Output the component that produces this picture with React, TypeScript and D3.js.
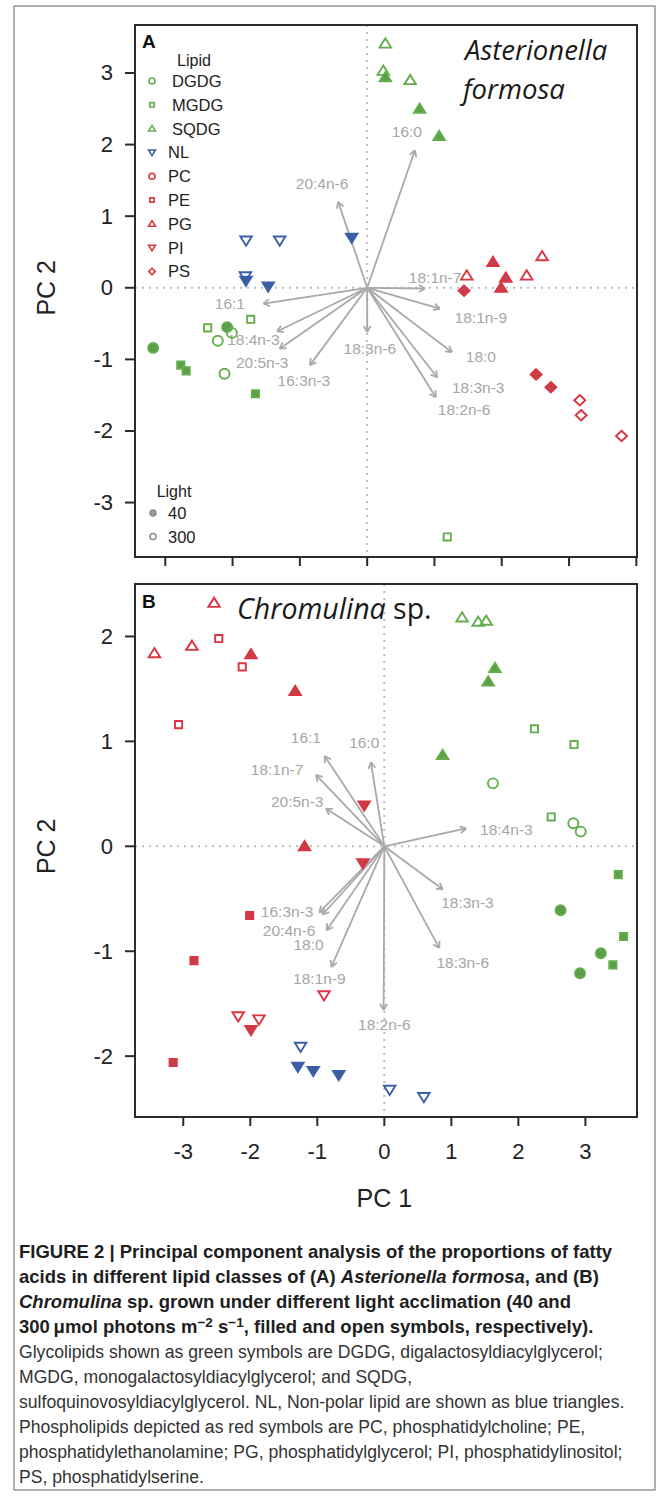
import React, { useRef, useEffect } from 'react';
import * as d3 from 'd3';

const lipidClasses = ['DGDG', 'MGDG', 'SQDG', 'NL', 'PC', 'PE', 'PG', 'PI', 'PS'];
const lightLevels = ['40', '300'];

// [lipid, light (1 = 40 filled, 0 = 300 open), PC1, PC2]
const pointsA: [string, number, number, number][] = [
  ['SQDG', 0, 0.27, 3.41], ['SQDG', 0, 0.24, 3.03], ['SQDG', 1, 0.27, 2.94],
  ['SQDG', 0, 0.64, 2.9], ['SQDG', 1, 0.78, 2.5], ['SQDG', 1, 1.07, 2.12],
  ['NL', 0, -1.8, 0.66], ['NL', 0, -1.3, 0.66], ['NL', 1, -0.23, 0.7],
  ['NL', 0, -1.81, 0.16], ['NL', 1, -1.8, 0.1], ['NL', 1, -1.47, 0.02],
  ['MGDG', 0, -1.73, -0.44], ['MGDG', 0, -2.37, -0.56], ['MGDG', 1, -2.77, -1.08],
  ['MGDG', 1, -2.69, -1.16], ['MGDG', 1, -1.66, -1.48], ['MGDG', 0, 1.19, -3.48],
  ['DGDG', 1, -2.08, -0.55], ['DGDG', 0, -2.01, -0.63], ['DGDG', 0, -2.22, -0.74],
  ['DGDG', 1, -3.18, -0.84], ['DGDG', 0, -2.12, -1.2],
  ['PG', 0, 2.6, 0.44], ['PG', 1, 1.87, 0.36], ['PG', 0, 1.48, 0.17],
  ['PG', 1, 2.06, 0.14], ['PG', 0, 2.37, 0.17], ['PG', 1, 1.99, 0.0],
  ['PS', 1, 1.44, -0.04], ['PS', 1, 2.51, -1.21], ['PS', 1, 2.73, -1.39],
  ['PS', 0, 3.16, -1.57], ['PS', 0, 3.18, -1.78], ['PS', 0, 3.78, -2.07],
];

const pointsB: [string, number, number, number][] = [
  ['PG', 0, -2.54, 2.32], ['PG', 0, -3.43, 1.84], ['PG', 0, -2.87, 1.91],
  ['PG', 1, -1.99, 1.83], ['PG', 1, -1.33, 1.48], ['PG', 1, -1.19, 0.0],
  ['PE', 0, -2.47, 1.98], ['PE', 0, -2.12, 1.71], ['PE', 0, -3.07, 1.16],
  ['PE', 1, -2.01, -0.66], ['PE', 1, -2.84, -1.09], ['PE', 1, -3.15, -2.06],
  ['PI', 1, -0.3, 0.39], ['PI', 1, -0.32, -0.16], ['PI', 0, -0.9, -1.42],
  ['PI', 0, -2.18, -1.62], ['PI', 0, -1.87, -1.65], ['PI', 1, -1.99, -1.75],
  ['NL', 0, -1.25, -1.91], ['NL', 1, -1.29, -2.1], ['NL', 1, -1.06, -2.14],
  ['NL', 1, -0.68, -2.18], ['NL', 0, 0.08, -2.32], ['NL', 0, 0.59, -2.39],
  ['SQDG', 0, 1.16, 2.18], ['SQDG', 0, 1.4, 2.14], ['SQDG', 0, 1.52, 2.15],
  ['SQDG', 1, 1.65, 1.7], ['SQDG', 1, 1.55, 1.57], ['SQDG', 1, 0.87, 0.87],
  ['MGDG', 0, 2.24, 1.12], ['MGDG', 0, 2.83, 0.97], ['MGDG', 0, 2.49, 0.28],
  ['MGDG', 1, 3.49, -0.27], ['MGDG', 1, 3.57, -0.86], ['MGDG', 1, 3.41, -1.13],
  ['DGDG', 0, 1.62, 0.6], ['DGDG', 0, 2.82, 0.22], ['DGDG', 0, 2.93, 0.14],
  ['DGDG', 1, 2.63, -0.61], ['DGDG', 1, 3.23, -1.02], ['DGDG', 1, 2.92, -1.21],
];

// [fatty acid, arrow PC1, arrow PC2, label PC1, label PC2]
const loadingsA: [string, number, number, number, number][] = [
  ['16:0', 0.71, 1.92, 0.59, 2.18],
  ['20:4n-6', -0.43, 1.2, -0.67, 1.46],
  ['18:1n-7', 0.86, -0.01, 1.01, 0.15],
  ['16:1', -1.54, -0.22, -2.04, -0.22],
  ['18:4n-3', -1.34, -0.61, -1.69, -0.72],
  ['20:5n-3', -1.3, -0.85, -1.56, -1.04],
  ['16:3n-3', -0.85, -1.08, -0.94, -1.29],
  ['18:3n-6', 0.0, -0.62, 0.04, -0.85],
  ['18:1n-9', 1.08, -0.29, 1.69, -0.42],
  ['18:0', 1.26, -0.9, 1.69, -0.96],
  ['18:3n-3', 1.04, -1.25, 1.65, -1.39],
  ['18:2n-6', 1.02, -1.53, 1.44, -1.7],
];

const loadingsB: [string, number, number, number, number][] = [
  ['16:1', -0.89, 0.86, -1.17, 1.04],
  ['16:0', -0.2, 0.8, -0.3, 0.99],
  ['18:1n-7', -1.02, 0.68, -1.6, 0.73],
  ['20:5n-3', -0.87, 0.36, -1.3, 0.43],
  ['18:4n-3', 1.22, 0.17, 1.82, 0.16],
  ['16:3n-3', -0.97, -0.63, -1.45, -0.62],
  ['20:4n-6', -0.92, -0.65, -1.42, -0.8],
  ['18:0', -0.86, -0.8, -1.13, -0.94],
  ['18:1n-9', -0.79, -1.15, -0.97, -1.26],
  ['18:2n-6', -0.01, -1.56, 0.0, -1.7],
  ['18:3n-3', 0.87, -0.41, 1.24, -0.54],
  ['18:3n-6', 0.82, -0.97, 1.17, -1.11],
];

const ticksAX = [-3, -2, -1, 0, 1, 2, 3, 4];
const ticksAY = [-3, -2, -1, 0, 1, 2, 3];
const ticksBX = [-3, -2, -1, 0, 1, 2, 3];
const ticksBY = [-2, -1, 0, 1, 2];

// caption segments: [text, style]  b = bold, bi = bold italic, r = regular, bsup = bold superscript
const captionLines: [string, string][][] = [
  [['FIGURE 2 | Principal component analysis of the proportions of fatty', 'b']],
  [['acids in different lipid classes of (A) ', 'b'], ['Asterionella formosa', 'bi'], [', and (B)', 'b']],
  [['Chromulina', 'bi'], [' sp. grown under different light acclimation (40 and', 'b']],
  [['300\u2009\u03bcmol photons m', 'b'], ['\u22122', 'bsup'], [' s', 'b'], ['\u22121', 'bsup'], [', filled and open symbols, respectively).', 'b']],
  [['Glycolipids shown as green symbols are DGDG, digalactosyldiacylglycerol;', 'r']],
  [['MGDG, monogalactosyldiacylglycerol; and SQDG,', 'r']],
  [['sulfoquinovosyldiacylglycerol. NL, Non-polar lipid are shown as blue triangles.', 'r']],
  [['Phospholipids depicted as red symbols are PC, phosphatidylcholine; PE,', 'r']],
  [['phosphatidylethanolamine; PG, phosphatidylglycerol; PI, phosphatidylinositol;', 'r']],
  [['PS, phosphatidylserine.', 'r']],
];

const GREEN = '#63ad4c';
const RED = '#dc3441';
const BLUE = '#3b5faa';
const ARROW = '#a9a9a9';
const FONT = '"Liberation Sans", Arial, Helvetica, sans-serif';

const lipidStyle: Record<string, { shape: string; color: string; fill: string }> = {
  DGDG: { shape: 'circle', color: GREEN, fill: '#5d9f47' },
  MGDG: { shape: 'square', color: GREEN, fill: '#5d9f47' },
  SQDG: { shape: 'up', color: GREEN, fill: '#5d9f47' },
  NL: { shape: 'down', color: BLUE, fill: '#3f5d9c' },
  PC: { shape: 'circle', color: RED, fill: '#c4404b' },
  PE: { shape: 'square', color: RED, fill: '#c4404b' },
  PG: { shape: 'up', color: RED, fill: '#c4404b' },
  PI: { shape: 'down', color: RED, fill: '#c4404b' },
  PS: { shape: 'diamond', color: RED, fill: '#c4404b' },
};

function shapePath(shape: string, r: number) {
  if (shape === 'circle') return `M${r},0A${r},${r} 0 1,1 ${-r},0A${r},${r} 0 1,1 ${r},0Z`;
  if (shape === 'square') { const s = r * 0.72; return `M${-s},${-s}H${s}V${s}H${-s}Z`; }
  if (shape === 'up') return `M0,${-r * 1.05}L${r * 1.15},${r * 0.8}L${-r * 1.15},${r * 0.8}Z`;
  if (shape === 'down') return `M0,${r * 1.05}L${r * 1.15},${-r * 0.8}L${-r * 1.15},${-r * 0.8}Z`;
  return `M0,${-r * 1.05}L${r * 1.1},0L0,${r * 1.05}L${-r * 1.1},0Z`;
}

type Panel = {
  x: d3.ScaleLinear<number, number>;
  y: d3.ScaleLinear<number, number>;
  xTicks: number[];
  yTicks: number[];
  xLabels: boolean;
  points: [string, number, number, number][];
  loadings: [string, number, number, number, number][];
};

function drawPanel(svg: d3.Selection<SVGSVGElement, unknown, null, undefined>, p: Panel) {
  const [x0, x1] = p.x.range();
  const [y1, y0] = p.y.range();
  const g = svg.append('g');

  // zero reference lines
  g.append('line').attr('x1', p.x(0)).attr('x2', p.x(0)).attr('y1', y0).attr('y2', y1)
    .attr('stroke', '#bcbcbc').attr('stroke-width', 2).attr('stroke-dasharray', '2,5');
  g.append('line').attr('x1', x0).attr('x2', x1).attr('y1', p.y(0)).attr('y2', p.y(0))
    .attr('stroke', '#bcbcbc').attr('stroke-width', 2).attr('stroke-dasharray', '2,5');

  // loading arrows
  const ox = p.x(0), oy = p.y(0);
  p.loadings.forEach(([name, ax, ay, lx, ly]) => {
    const tx = p.x(ax), ty = p.y(ay);
    const ang = Math.atan2(ty - oy, tx - ox);
    const head = 7;
    g.append('line').attr('x1', ox).attr('y1', oy).attr('x2', tx).attr('y2', ty)
      .attr('stroke', ARROW).attr('stroke-width', 1.8);
    [-1, 1].forEach(s => {
      const a = ang + Math.PI + s * Math.PI / 6;
      g.append('line').attr('x1', tx).attr('y1', ty)
        .attr('x2', tx + head * Math.cos(a)).attr('y2', ty + head * Math.sin(a))
        .attr('stroke', ARROW).attr('stroke-width', 1.8);
    });
    g.append('text').attr('x', p.x(lx)).attr('y', p.y(ly))
      .attr('text-anchor', 'middle').attr('dominant-baseline', 'central')
      .attr('fill', '#a6a6a6').style('font-family', FONT).style('font-size', '15.5px')
      .text(name);
  });

  // points
  g.selectAll('path.pt').data(p.points).enter().append('path')
    .attr('class', 'pt')
    .attr('transform', d => `translate(${p.x(d[2])},${p.y(d[3])})`)
    .attr('d', d => shapePath(lipidStyle[d[0]].shape, 5))
    .attr('fill', d => d[1] ? lipidStyle[d[0]].fill : 'none')
    .attr('stroke', d => lipidStyle[d[0]].color)
    .attr('stroke-width', 1.9);

  // box
  g.append('rect').attr('x', x0).attr('y', y0).attr('width', x1 - x0).attr('height', y1 - y0)
    .attr('fill', 'none').attr('stroke', '#2b2b2b').attr('stroke-width', 2);

  // ticks
  p.xTicks.forEach(t => {
    g.append('line').attr('x1', p.x(t)).attr('x2', p.x(t)).attr('y1', y1).attr('y2', y1 + 9)
      .attr('stroke', '#2b2b2b').attr('stroke-width', 2);
    if (p.xLabels) {
      g.append('text').attr('x', p.x(t)).attr('y', y1 + 42).attr('text-anchor', 'middle')
        .attr('fill', '#222').style('font-family', FONT).style('font-size', '22px').text(String(t));
    }
  });
  p.yTicks.forEach(t => {
    g.append('line').attr('x1', x0 - 10).attr('x2', x0).attr('y1', p.y(t)).attr('y2', p.y(t))
      .attr('stroke', '#2b2b2b').attr('stroke-width', 2);
    g.append('text').attr('x', x0 - 22).attr('y', p.y(t)).attr('text-anchor', 'end')
      .attr('dominant-baseline', 'central')
      .attr('fill', '#222').style('font-family', FONT).style('font-size', '22px').text(String(t));
  });

  g.append('text').attr('transform', `translate(46,${p.y(0)}) rotate(-90)`)
    .attr('text-anchor', 'middle').attr('dominant-baseline', 'central')
    .attr('fill', '#222').style('font-family', FONT).style('font-size', '25px').text('PC 2');
  return g;
}

function App() {
  const ref = useRef<SVGSVGElement>(null);

  useEffect(() => {
    if (!ref.current) return;
    const svg = d3.select(ref.current);
    svg.selectAll('*').remove();

    svg.append('rect').attr('x', 14).attr('y', 6).attr('width', 641).attr('height', 1484)
      .attr('fill', 'white').attr('stroke', '#7a7a7a').attr('stroke-width', 1.2);

    const xA = d3.scaleLinear().domain([-3.45, 4.01]).range([135, 637]);
    const yA = d3.scaleLinear().domain([-3.76, 3.67]).range([557, 25]);
    const xB = d3.scaleLinear().domain([-3.72, 3.77]).range([135, 637]);
    const yB = d3.scaleLinear().domain([-2.58, 2.5]).range([1117, 584]);

    const gA = drawPanel(svg, { x: xA, y: yA, xTicks: ticksAX, yTicks: ticksAY, xLabels: false, points: pointsA, loadings: loadingsA });
    const gB = drawPanel(svg, { x: xB, y: yB, xTicks: ticksBX, yTicks: ticksBY, xLabels: true, points: pointsB, loadings: loadingsB });

    // panel letters and species names
    gA.append('text').attr('x', 142).attr('y', 48).style('font-family', FONT).style('font-weight', 'bold')
      .style('font-size', '19px').attr('fill', '#111').text('A');
    gB.append('text').attr('x', 142).attr('y', 608).style('font-family', FONT).style('font-weight', 'bold')
      .style('font-size', '19px').attr('fill', '#111').text('B');
    const sp = '"Open Sans", "DejaVu Sans", sans-serif';
    gA.append('text').attr('x', 465).attr('y', 60).style('font-family', sp).style('font-style', 'italic')
      .style('font-size', '27.5px').attr('fill', '#1a1a1a').text('Asterionella');
    gA.append('text').attr('x', 463).attr('y', 99).style('font-family', sp).style('font-style', 'italic')
      .style('font-size', '27.5px').attr('fill', '#1a1a1a').text('formosa');
    const tB = gB.append('text').attr('x', 237).attr('y', 619).style('font-family', sp)
      .style('font-size', '28.5px').attr('fill', '#1a1a1a');
    tB.append('tspan').style('font-style', 'italic').text('Chromulina');
    tB.append('tspan').text(' sp.');

    // lipid legend
    gA.append('text').attr('x', 194).attr('y', 60).attr('text-anchor', 'middle').attr('dominant-baseline', 'central')
      .style('font-family', FONT).style('font-size', '16px').attr('fill', '#222').text('Lipid');
    lipidClasses.forEach((l, i) => {
      const cy = 81 + i * 23.8;
      const st = lipidStyle[l];
      gA.append('path').attr('transform', `translate(152,${cy})`).attr('d', shapePath(st.shape, 3))
        .attr('fill', 'none').attr('stroke', st.color).attr('stroke-width', 1.6);
      gA.append('text').attr('x', i < 3 ? 172 : 168).attr('y', cy).attr('dominant-baseline', 'central')
        .style('font-family', FONT).style('font-size', '16.5px').attr('fill', '#222').text(l);
    });

    // light legend
    gA.append('text').attr('x', 174).attr('y', 491).attr('text-anchor', 'middle').attr('dominant-baseline', 'central')
      .style('font-family', FONT).style('font-size', '16px').attr('fill', '#222').text('Light');
    lightLevels.forEach((l, i) => {
      const cy = 513 + i * 23.5;
      gA.append('path').attr('transform', `translate(153,${cy})`).attr('d', shapePath('circle', 3))
        .attr('fill', i === 0 ? '#9a9a9a' : 'none').attr('stroke', '#8a8a8a').attr('stroke-width', 1.5);
      gA.append('text').attr('x', 168).attr('y', cy).attr('dominant-baseline', 'central')
        .style('font-family', FONT).style('font-size', '16.5px').attr('fill', '#222').text(l);
    });

    svg.append('text').attr('x', xB(0)).attr('y', 1207).attr('text-anchor', 'middle')
      .style('font-family', FONT).style('font-size', '25px').attr('fill', '#222').text('PC 1');

    // caption
    captionLines.forEach((segs, i) => {
      const bold = i < 4;
      const t = svg.append('text').attr('x', 19).attr('y', 1258 + i * 25)
        .style('font-family', FONT).style('font-size', bold ? '18.5px' : '17.6px')
        .attr('fill', bold ? '#1e1e1e' : '#333');
      segs.forEach(([txt, s]) => {
        const ts = t.append('tspan').text(txt);
        if (s !== 'r') ts.style('font-weight', 'bold');
        if (s === 'bi') ts.style('font-style', 'italic');
        if (s === 'bsup') ts.attr('baseline-shift', '40%').style('font-size', '13.5px');
      });
    });
  }, []);

  return (
    <svg ref={ref} width={669} height={1496} style={{ position: 'absolute', left: 0, top: 0 }} />
  );
}

export default App;
